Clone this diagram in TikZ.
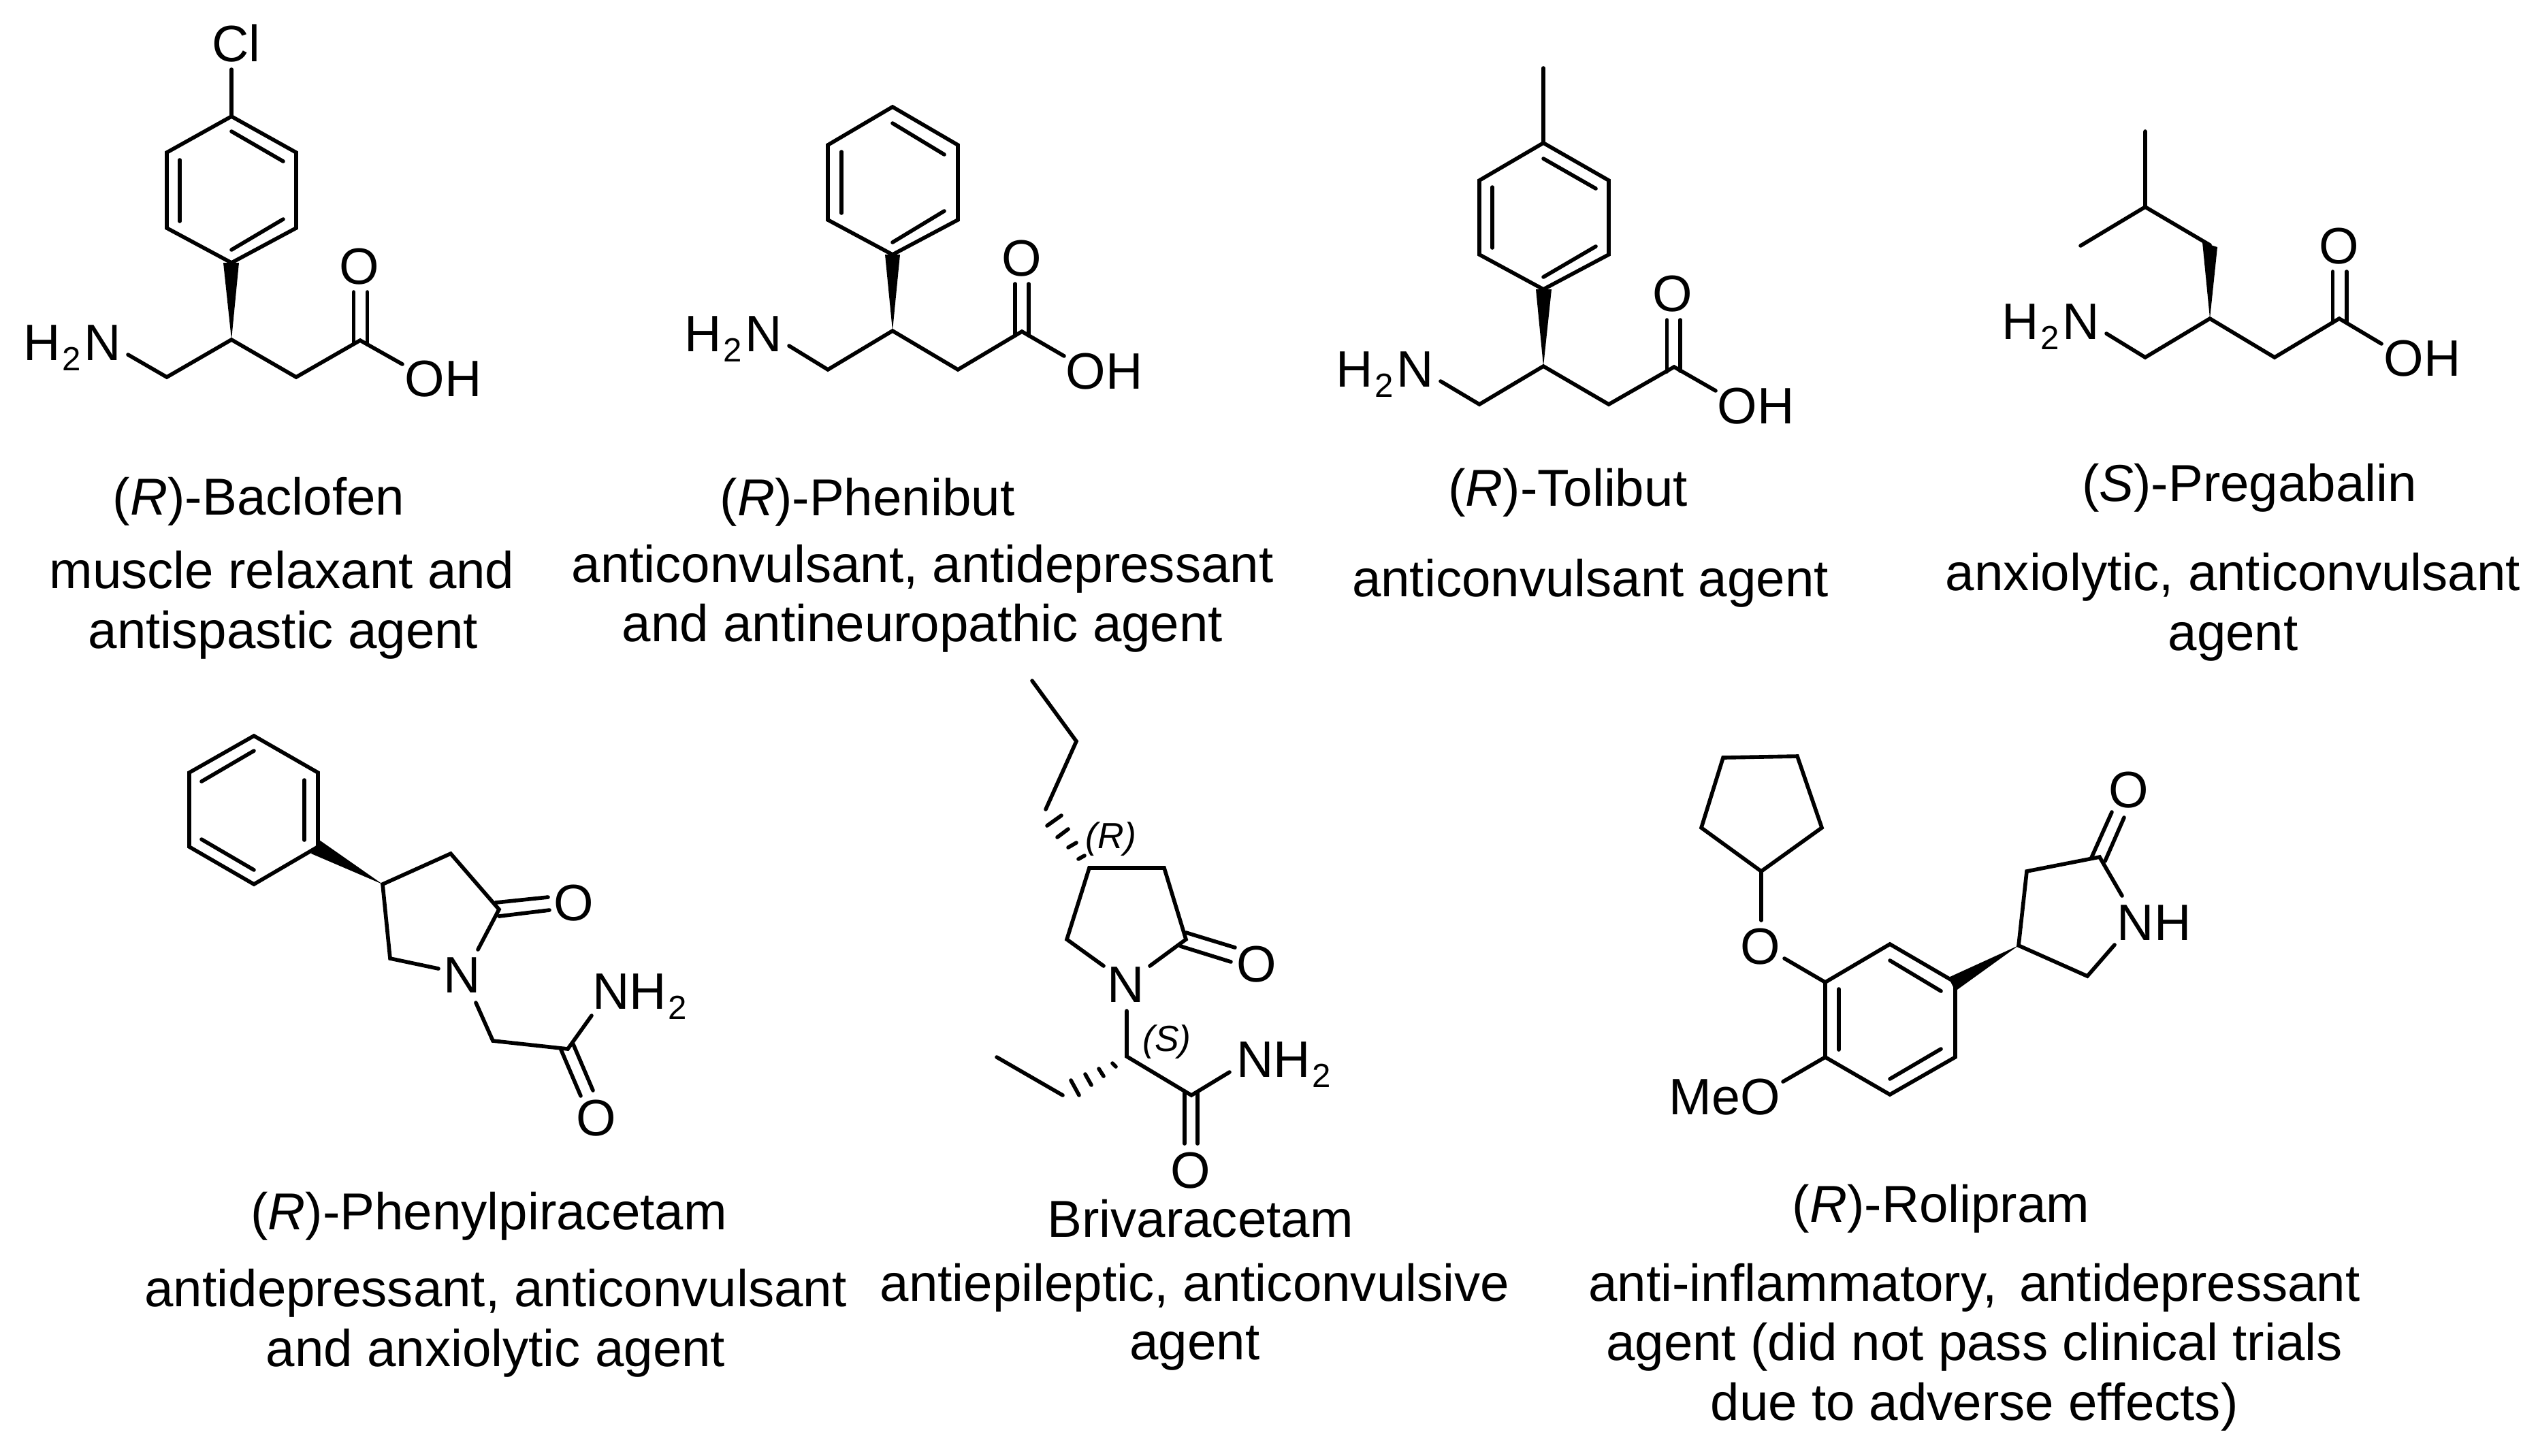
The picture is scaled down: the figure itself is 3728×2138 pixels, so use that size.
\documentclass[tikz,border=0pt]{standalone}
\usepackage{fontspec}
\setmainfont[Ligatures=NoCommon]{Liberation Sans}
\newcommand{\subtwo}{\kern.03em\raisebox{-.2em}{\fontsize{14pt}{16pt}\selectfont 2}\kern.06em}
\tikzset{
  bond/.style={line width=1.6pt,line cap=round,line join=miter,black},
  wedgefill/.style={fill=black,draw=none},
  caption/.style={font=\fontsize{21.7pt}{26pt}\selectfont,inner sep=0pt,anchor=base,text=black},
  atom/.style={font=\fontsize{21.4pt}{26pt}\selectfont,inner sep=0pt,anchor=base,text=black},
  atomc/.style={font=\fontsize{21.4pt}{26pt}\selectfont,inner sep=0pt,anchor=center,text=black},
  cip/.style={font=\fontsize{15.2pt}{18pt}\selectfont\itshape,inner sep=0pt,anchor=center,text=black}
}
\begin{document}
\begin{tikzpicture}[x=0.01cm,y=-0.01cm]
\useasboundingbox (0,0) rectangle (3728,2138);

% ---------- (R)-Baclofen
\node[atom] (aCl) at (347,90) {Cl};
\node[atom] (aN) at (106,529) {H\subtwo N};
\node[atomc] (aO) at (528,392) {O};
\node[atom] (aOH) at (651,582) {OH};
\coordinate (aClB) at (340,102); \coordinate (a1) at (340,171); \coordinate (a2) at (435,224); \coordinate (a3) at (435,335);
\coordinate (a4) at (340,386); \coordinate (a5) at (245,335); \coordinate (a6) at (245,224);
\coordinate (aC) at (340,499); \coordinate (aL) at (245,554); \coordinate (aNB) at (188,521); \coordinate (aR) at (435,554);
\coordinate (aCO) at (529,500); \coordinate (aOHB) at (591,535);
\coordinate (aw1) at (328,386); \coordinate (aw2) at (351,386);
\coordinate (ai1) at (340,193); \coordinate (ai2) at (416,237); \coordinate (ai3) at (264,235); \coordinate (ai4) at (264,325);
\coordinate (ai5) at (416,322); \coordinate (ai6) at (340,367);
\coordinate (ad1) at (519.5,505); \coordinate (ad2) at (519.5,429); \coordinate (ad3) at (539.6,506); \coordinate (ad4) at (539.6,429);
\draw[bond] (a1) -- (a2) -- (a3) -- (a4) -- (a5) -- (a6) -- cycle;
\draw[bond] (ai1) -- (ai2); \draw[bond] (ai3) -- (ai4); \draw[bond] (ai5) -- (ai6);
\draw[bond] (a1) -- (aClB);
\fill[wedgefill] (aC) -- (aw1) -- (aw2) -- cycle;
\draw[bond] (aNB) -- (aL) -- (aC) -- (aR) -- (aCO) -- (aOHB);
\draw[bond] (ad1) -- (ad2); \draw[bond] (ad3) -- (ad4);

% ---------- (R)-Phenibut
\node[atom] (bN) at (1077,516) {H\subtwo N};
\node[atomc] (bO) at (1501,380) {O};
\node[atom] (bOH) at (1622,571) {OH};
\coordinate (b1) at (1311,157); \coordinate (b2) at (1407,213); \coordinate (b3) at (1407,323);
\coordinate (b4) at (1311,374); \coordinate (b5) at (1216,323); \coordinate (b6) at (1216,213);
\coordinate (bC) at (1311,486); \coordinate (bL) at (1216,543); \coordinate (bNB) at (1159,508); \coordinate (bR) at (1407,543);
\coordinate (bCO) at (1501,487); \coordinate (bOHB) at (1563,523);
\coordinate (bw1) at (1300,374); \coordinate (bw2) at (1322,374);
\coordinate (bi1) at (1311,181); \coordinate (bi2) at (1387,227); \coordinate (bi3) at (1236,223); \coordinate (bi4) at (1236,313);
\coordinate (bi5) at (1387,310); \coordinate (bi6) at (1311,356);
\coordinate (bd1) at (1491,493); \coordinate (bd2) at (1491,417); \coordinate (bd3) at (1511,493); \coordinate (bd4) at (1511,417);
\draw[bond] (b1) -- (b2) -- (b3) -- (b4) -- (b5) -- (b6) -- cycle;
\draw[bond] (bi1) -- (bi2); \draw[bond] (bi3) -- (bi4); \draw[bond] (bi5) -- (bi6);
\fill[wedgefill] (bC) -- (bw1) -- (bw2) -- cycle;
\draw[bond] (bNB) -- (bL) -- (bC) -- (bR) -- (bCO) -- (bOHB);
\draw[bond] (bd1) -- (bd2); \draw[bond] (bd3) -- (bd4);

% ---------- (R)-Tolibut
\node[atom] (cN) at (2034,568) {H\subtwo N};
\node[atomc] (cO) at (2457,432) {O};
\node[atom] (cOH) at (2579,622) {OH};
\coordinate (cMe) at (2267,100); \coordinate (c1) at (2267,210); \coordinate (c2) at (2363,265); \coordinate (c3) at (2363,374);
\coordinate (c4) at (2267,425); \coordinate (c5) at (2173,374); \coordinate (c6) at (2173,265);
\coordinate (cC) at (2267,538); \coordinate (cL) at (2173,594); \coordinate (cNB) at (2116,560); \coordinate (cR) at (2363,594);
\coordinate (cCO) at (2459,539); \coordinate (cOHB) at (2520,574);
\coordinate (cw1) at (2256,425); \coordinate (cw2) at (2279,425);
\coordinate (ci1) at (2267,233); \coordinate (ci2) at (2344,277); \coordinate (ci3) at (2192,275); \coordinate (ci4) at (2192,364);
\coordinate (ci5) at (2344,362); \coordinate (ci6) at (2267,407);
\coordinate (cd1) at (2448.5,546); \coordinate (cd2) at (2448.5,470); \coordinate (cd3) at (2468,545); \coordinate (cd4) at (2468,470);
\draw[bond] (c1) -- (c2) -- (c3) -- (c4) -- (c5) -- (c6) -- cycle;
\draw[bond] (cMe) -- (c1);
\draw[bond] (ci1) -- (ci2); \draw[bond] (ci3) -- (ci4); \draw[bond] (ci5) -- (ci6);
\fill[wedgefill] (cC) -- (cw1) -- (cw2) -- cycle;
\draw[bond] (cNB) -- (cL) -- (cC) -- (cR) -- (cCO) -- (cOHB);
\draw[bond] (cd1) -- (cd2); \draw[bond] (cd3) -- (cd4);

% ---------- (S)-Pregabalin
\node[atom] (dN) at (3012,498) {H\subtwo N};
\node[atomc] (dO) at (3436,362) {O};
\node[atom] (dOH) at (3558,552) {OH};
\coordinate (dMe) at (3151,193); \coordinate (dCH) at (3151,304); \coordinate (dMe2) at (3056,361); \coordinate (dCH2) at (3246,360);
\coordinate (dC) at (3246,468); \coordinate (dL) at (3151,525); \coordinate (dNB) at (3094,490); \coordinate (dR) at (3341,525);
\coordinate (dCO) at (3436,468); \coordinate (dOHB) at (3498,505);
\coordinate (dw1) at (3235,356); \coordinate (dw2) at (3257,363);
\coordinate (dd1) at (3426.5,474); \coordinate (dd2) at (3426.5,399); \coordinate (dd3) at (3447,474); \coordinate (dd4) at (3447,399);
\draw[bond] (dMe) -- (dCH) -- (dMe2);
\draw[bond] (dCH) -- (dCH2);
\fill[wedgefill] (dC) -- (dw1) -- (dw2) -- cycle;
\draw[bond] (dNB) -- (dL) -- (dC) -- (dR) -- (dCO) -- (dOHB);
\draw[bond] (dd1) -- (dd2); \draw[bond] (dd3) -- (dd4);

% ---------- (R)-Phenylpiracetam
\node[atomc] (eN) at (679,1433) {N};
\node[atomc] (eO) at (843,1327) {O};
\node[atom] (eNH) at (942,1482) {NH\subtwo};
\node[atomc] (eO2) at (876,1643) {O};
\coordinate (e1) at (373,1081); \coordinate (e2) at (467,1135); \coordinate (e3) at (467,1244);
\coordinate (e4) at (373,1299); \coordinate (e5) at (278,1244); \coordinate (e6) at (278,1135);
\coordinate (ei1) at (296,1148); \coordinate (ei2) at (373,1103); \coordinate (ei3) at (447,1146); \coordinate (ei4) at (447,1234);
\coordinate (ei5) at (296,1233); \coordinate (ei6) at (373,1278);
\coordinate (eC) at (562,1299); \coordinate (ew1) at (469,1234); \coordinate (ew2) at (457,1254);
\coordinate (eCH2) at (662,1254); \coordinate (eCO) at (733,1336); \coordinate (eNB1) at (702,1395);
\coordinate (eCH) at (573,1408); \coordinate (eNB2) at (644,1423);
\coordinate (eNB3) at (699,1473); \coordinate (eG) at (724,1529); \coordinate (eAm) at (834,1541); \coordinate (eNHB) at (869,1492);
\coordinate (ed1) at (728,1326); \coordinate (ed2) at (805,1318); \coordinate (ed3) at (733,1346); \coordinate (ed4) at (807,1337);
\coordinate (ed5) at (824,1542); \coordinate (ed6) at (853,1610); \coordinate (ed7) at (842,1534); \coordinate (ed8) at (871,1602);
\draw[bond] (e1) -- (e2) -- (e3) -- (e4) -- (e5) -- (e6) -- cycle;
\draw[bond] (ei1) -- (ei2); \draw[bond] (ei3) -- (ei4); \draw[bond] (ei5) -- (ei6);
\fill[wedgefill] (eC) -- (ew1) -- (ew2) -- cycle;
\draw[bond] (eNB2) -- (eCH) -- (eC) -- (eCH2) -- (eCO) -- (eNB1);
\draw[bond] (eNB3) -- (eG) -- (eAm) -- (eNHB);
\draw[bond] (ed1) -- (ed2); \draw[bond] (ed3) -- (ed4); \draw[bond] (ed5) -- (ed6); \draw[bond] (ed7) -- (ed8);

% ---------- Brivaracetam
\node[atomc] (fN) at (1654,1447) {N};
\node[atomc] (fO) at (1846,1417) {O};
\node[atom] (fNH) at (1888,1582) {NH\subtwo};
\node[atomc] (fO2) at (1749,1720) {O};
\node[cip] (fR) at (1632,1233) {(R)};
\node[cip] (fS) at (1714,1531) {(S)};
\coordinate (f1) at (1516,1000); \coordinate (f2) at (1581,1089); \coordinate (f3) at (1536,1189);
\coordinate (fA) at (1600,1275); \coordinate (fB) at (1710,1275); \coordinate (fCO) at (1742,1380); \coordinate (fD) at (1567,1380);
\coordinate (fNl) at (1621,1419); \coordinate (fNr) at (1689,1419); \coordinate (fNd) at (1655,1485); \coordinate (fCH) at (1655,1552);
\coordinate (fAm) at (1750,1609); \coordinate (fNHB) at (1806,1575);
\coordinate (fE1) at (1464,1553); \coordinate (fE2) at (1561,1609);
\coordinate (fd1) at (1742,1370); \coordinate (fd2) at (1814,1392); \coordinate (fd3) at (1734,1390); \coordinate (fd4) at (1808,1413);
\coordinate (fd5) at (1740,1603); \coordinate (fd6) at (1740,1680); \coordinate (fd7) at (1759,1604); \coordinate (fd8) at (1759,1680);
\coordinate (fh1) at (1538,1213); \coordinate (fh2) at (1559,1198); \coordinate (fh3) at (1553,1230); \coordinate (fh4) at (1569,1218);
\coordinate (fh5) at (1569,1245); \coordinate (fh6) at (1581,1238); \coordinate (fh7) at (1584,1262); \coordinate (fh8) at (1593,1257);
\coordinate (fk1) at (1573,1587); \coordinate (fk2) at (1585,1609); \coordinate (fk3) at (1594,1578); \coordinate (fk4) at (1603,1594);
\coordinate (fk5) at (1614,1570); \coordinate (fk6) at (1621,1581); \coordinate (fk7) at (1634,1562); \coordinate (fk8) at (1639,1567);
\draw[bond] (f1) -- (f2) -- (f3);
\draw[bond] (fNl) -- (fD) -- (fA) -- (fB) -- (fCO) -- (fNr);
\draw[bond] (fNd) -- (fCH) -- (fAm) -- (fNHB);
\draw[bond] (fE1) -- (fE2);
\draw[bond] (fd1) -- (fd2); \draw[bond] (fd3) -- (fd4); \draw[bond] (fd5) -- (fd6); \draw[bond] (fd7) -- (fd8);
\draw[bond] (fh1) -- (fh2); \draw[bond] (fh3) -- (fh4); \draw[bond] (fh5) -- (fh6); \draw[bond] (fh7) -- (fh8);
\draw[bond] (fk1) -- (fk2); \draw[bond] (fk3) -- (fk4); \draw[bond] (fk5) -- (fk6); \draw[bond] (fk7) -- (fk8);

% ---------- (R)-Rolipram
\node[atomc] (gO) at (2586,1391) {O};
\node[atom] (gMeO) at (2533,1637) {MeO};
\node[atom] (gNH) at (3164,1381) {NH};
\node[atomc] (gO2) at (3127,1161) {O};
\coordinate (gp1) at (2531,1113); \coordinate (gp2) at (2640,1111); \coordinate (gp3) at (2676,1216); \coordinate (gp4) at (2587,1280); \coordinate (gp5) at (2499,1216);
\coordinate (gOB1) at (2587,1352); \coordinate (gOB2) at (2621,1408);
\coordinate (g1) at (2681,1443); \coordinate (g2) at (2776,1387); \coordinate (g3) at (2872,1443);
\coordinate (g4) at (2872,1553); \coordinate (g5) at (2776,1608); \coordinate (g6) at (2681,1553);
\coordinate (gi1) at (2776,1411); \coordinate (gi2) at (2851,1456); \coordinate (gi3) at (2701,1453); \coordinate (gi4) at (2701,1542);
\coordinate (gi5) at (2851,1541); \coordinate (gi6) at (2776,1585);
\coordinate (gMeB) at (2619,1589);
\coordinate (gC) at (2965,1389); \coordinate (gw1) at (2862,1436); \coordinate (gw2) at (2872,1456);
\coordinate (gA) at (2977,1280); \coordinate (gCO) at (3084,1259); \coordinate (gNB1) at (3117,1316); \coordinate (gNB2) at (3106,1388); \coordinate (gD) at (3066,1434);
\coordinate (gd1) at (3072,1260); \coordinate (gd2) at (3102,1193); \coordinate (gd3) at (3092,1265); \coordinate (gd4) at (3120,1201);
\draw[bond] (gp1) -- (gp2) -- (gp3) -- (gp4) -- (gp5) -- cycle;
\draw[bond] (gp4) -- (gOB1); \draw[bond] (gOB2) -- (g1);
\draw[bond] (g1) -- (g2) -- (g3) -- (g4) -- (g5) -- (g6) -- cycle;
\draw[bond] (gi1) -- (gi2); \draw[bond] (gi3) -- (gi4); \draw[bond] (gi5) -- (gi6);
\draw[bond] (g6) -- (gMeB);
\fill[wedgefill] (gC) -- (gw1) -- (gw2) -- cycle;
\draw[bond] (gNB2) -- (gD) -- (gC) -- (gA) -- (gCO) -- (gNB1);
\draw[bond] (gd1) -- (gd2); \draw[bond] (gd3) -- (gd4);

% ---------- captions
\node[caption] (t1) at (380,756) {(\textit{R})-Baclofen};
\node[caption] (t2) at (414,864) {muscle relaxant and};
\node[caption] (t3) at (416,952) {antispastic agent};
\node[caption] (t4) at (1274,757) {(\textit{R})-Phenibut};
\node[caption] (t5) at (1355,855) {anticonvulsant, antidepressant};
\node[caption] (t6) at (1355,942) {and antineuropathic agent};
\node[caption] (t7) at (2303,743) {(\textit{R})-Tolibut};
\node[caption] (t8) at (2336,876) {anticonvulsant agent};
\node[caption] (t9) at (3304,736) {(\textit{S})-Pregabalin};
\node[caption] (t10) at (3280,867) {anxiolytic, anticonvulsant};
\node[caption] (t11) at (3280,955) {agent};
\node[caption] (t12) at (718,1806) {(\textit{R})-Phenylpiracetam};
\node[caption] (t13) at (728,1919) {antidepressant, anticonvulsant};
\node[caption] (t14) at (728,2007) {and anxiolytic agent};
\node[caption] (t15) at (1763,1817) {Brivaracetam};
\node[caption] (t16) at (1755,1911) {antiepileptic, anticonvulsive};
\node[caption] (t17) at (1755,1997) {agent};
\node[caption] (t18) at (2851,1795) {(\textit{R})-Rolipram};
\node[caption] (t19) at (2900,1911) {anti-inflammatory,\hspace{.42em}antidepressant};
\node[caption] (t20) at (2900,1998) {agent (did not pass clinical trials};
\node[caption] (t21) at (2900,2086) {due to adverse effects)};
\end{tikzpicture}
\end{document}
